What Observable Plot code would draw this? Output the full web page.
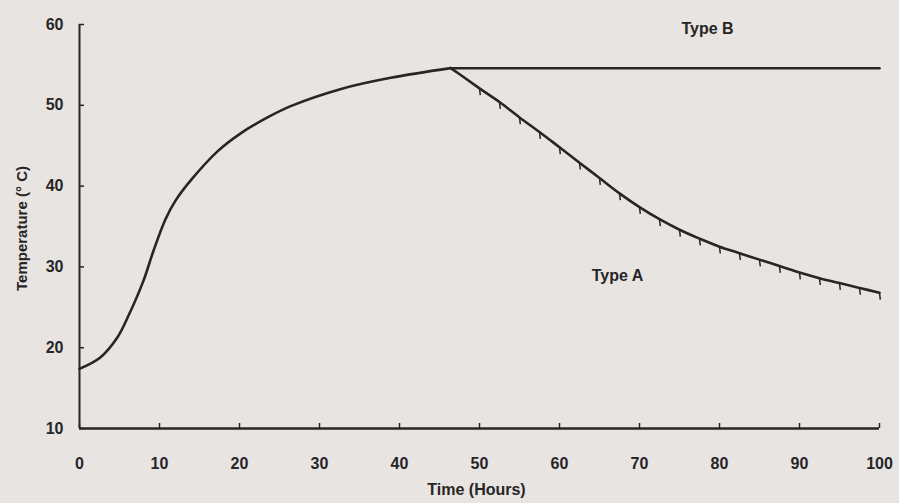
<!DOCTYPE html>
<html>
<head>
<meta charset="utf-8">
<script src="https://cdn.jsdelivr.net/npm/d3@7"></script>
<script src="https://cdn.jsdelivr.net/npm/@observablehq/plot@0.6"></script>
<style>
  html, body { margin: 0; padding: 0; background: #e8e4e2; }
  #chart { width: 899px; height: 503px; }
  svg { font-family: "Liberation Sans", Arial, sans-serif; }
</style>
</head>
<body>
<div id="chart"></div>
<script>
// Shared rising part (both types)
const riseTime = [0, 2.6, 4.75, 6, 8, 9.25, 10.75, 12, 13.9, 17.25, 20.1, 23.5, 26.4, 32.6, 38.9, 46.4];
const riseTemp = [17.4, 18.8, 21.3, 23.7, 28.3, 32.0, 35.9, 38.2, 40.7, 44.3, 46.5, 48.5, 49.9, 52.0, 53.4, 54.6];

// Type B: stays flat after the peak
const typeBTime = [46.4, 60, 70, 80, 90, 100];
const typeBTemp = [54.6, 54.6, 54.6, 54.6, 54.6, 54.6];

// Type A: decays after the peak
const typeATime = [46.4, 48, 50, 52.5, 55, 57.5, 60, 62.5, 65, 67.5, 70, 72.5, 75, 77.5, 80, 82.5, 85, 87.5, 90, 92.5, 95, 97.5, 100];
const typeATemp = [54.6, 53.5, 52.1, 50.4, 48.5, 46.7, 44.8, 42.9, 41.0, 39.1, 37.4, 35.9, 34.6, 33.5, 32.5, 31.7, 30.9, 30.1, 29.3, 28.6, 28.0, 27.4, 26.8];

const xTicks = [0, 10, 20, 30, 40, 50, 60, 70, 80, 90, 100];
const yTicks = [10, 20, 30, 40, 50, 60];
const xDomain = [0, 100];
const yDomain = [10, 60];

const labelNames = ["Type B", "Type A"];
const labelTime = [78.5, 67.25];
const labelTemp = [59.4, 28.9];

const rise = riseTime.map((t, i) => ({t, v: riseTemp[i]}));
const typeB = typeBTime.map((t, i) => ({t, v: typeBTemp[i]}));
const typeA = typeATime.map((t, i) => ({t, v: typeATemp[i]}));
const hatch = typeA.filter(d => d.t >= 50);
const labels = labelNames.map((s, i) => ({s, t: labelTime[i], v: labelTemp[i]}));

const hatchSymbol = {
  draw(context, size) {
    const l = Math.sqrt(size) * 1.1;
    context.moveTo(0, 0);
    context.lineTo(0.8, l);
  }
};

const ink = "#262626";

const chart = Plot.plot({
  width: 899,
  height: 503,
  marginLeft: 79,
  marginRight: 20,
  marginTop: 24,
  marginBottom: 75,
  style: {background: "transparent", color: ink},
  x: {domain: xDomain, ticks: xTicks},
  y: {domain: yDomain, ticks: yTicks},
  marks: [
    Plot.ruleY([yDomain[0]], {stroke: ink, strokeWidth: 2.4}),
    Plot.ruleX([xDomain[0]], {stroke: ink, strokeWidth: 2}),
    Plot.axisX({ticks: xTicks, tickSize: -5, tickPadding: 34, label: null, fontSize: 16, fontWeight: "bold", stroke: ink, strokeWidth: 1.5}),
    Plot.axisY({ticks: yTicks, tickSize: -5, tickPadding: 21, label: null, fontSize: 16, fontWeight: "bold", stroke: ink, strokeWidth: 1.5}),
    Plot.line(rise, {x: "t", y: "v", curve: "catmull-rom", stroke: ink, strokeWidth: 2.6}),
    Plot.line(typeB, {x: "t", y: "v", curve: "linear", stroke: ink, strokeWidth: 2.5}),
    Plot.line(typeA, {x: "t", y: "v", curve: "catmull-rom", stroke: ink, strokeWidth: 2.6}),
    Plot.dot(hatch, {x: "t", y: "v", symbol: hatchSymbol, r: 3.5, stroke: ink, strokeWidth: 1.5, fill: "none"}),
    Plot.text(labels, {x: "t", y: "v", text: "s", fontSize: 16, fontWeight: "bold", fill: ink}),
    Plot.text(["Time (Hours)"], {frameAnchor: "bottom", textAnchor: "middle", lineAnchor: "middle", dx: -3, dy: 61, fontSize: 16, fontWeight: "bold", fill: ink}),
    Plot.text(["Temperature (° C)"], {frameAnchor: "left", textAnchor: "middle", lineAnchor: "middle", dx: -57, dy: 2, rotate: -90, fontSize: 15, fontWeight: "bold", fill: ink})
  ]
});
document.getElementById("chart").appendChild(chart);
</script>
</body>
</html>
